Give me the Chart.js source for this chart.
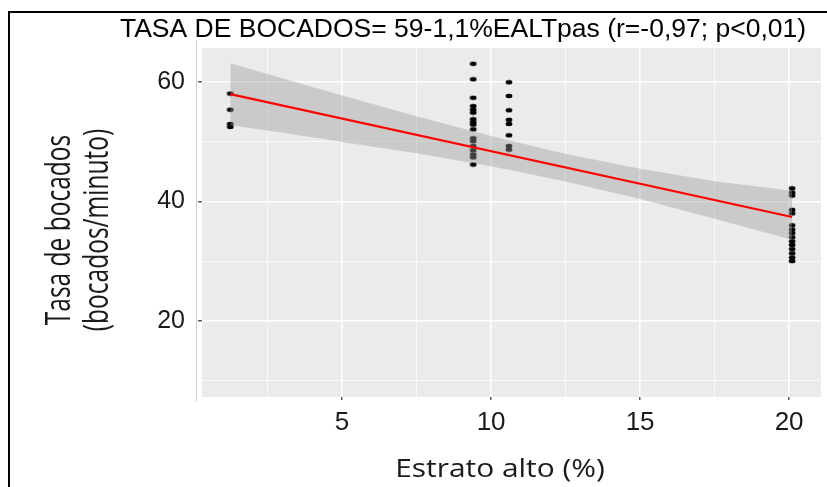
<!DOCTYPE html>
<html>
<head>
<meta charset="utf-8">
<script src="https://cdn.jsdelivr.net/npm/chart.js@4.4.1/dist/chart.umd.min.js"></script>
<style>
  html, body { margin: 0; padding: 0; background: #fff; }
  #wrap { position: relative; width: 827px; height: 487px; }
  #frame { position: absolute; left: 8px; top: 11px; right: 0; bottom: 0;
           border-top: 2px solid #000; border-left: 2px solid #000; pointer-events: none; }
</style>
</head>
<body>
<div id="wrap">
  <canvas id="chart-1" width="827" height="487"></canvas>
  <div id="frame"></div>
</div>
<script>
// estrato alto (%) of each group of observations
const groupX = [1.25, 9.4, 10.6, 20.1];
// tasa de bocados (bocados/minuto) per group
const groupA = [58.1, 55.4, 53.0, 52.5];
const groupB = [63.1, 60.5, 57.4, 56.0, 55.4, 54.9, 53.8, 53.3, 52.9, 52.1, 50.6, 50.1, 49.3, 48.6, 47.9, 47.4, 46.2];
const groupC = [60.0, 57.7, 55.3, 53.7, 53.0, 51.1, 49.3, 48.7];
const groupD = [42.2, 41.5, 41.0, 38.6, 38.0, 36.0, 35.3, 34.7, 34.0, 33.3, 32.7, 32.0, 31.3, 30.6, 30.0];

// fitted line and its confidence band
const fitX = [1.25, 20.1];
const fitY = [58.0, 37.4];
const bandX = [1.25, 2.9, 5, 7.5, 10, 12.4, 15, 17.5, 20.1];
const bandUpper = [63.2, 60.8, 57.8, 54.3, 51.0, 48.1, 45.5, 43.4, 41.8];
const bandLower = [52.8, 51.6, 50.0, 48.1, 45.9, 43.5, 40.4, 37.1, 33.6];

// ticks / grid
const xGrid = [2.5, 5, 7.5, 10, 12.5, 15, 17.5, 20];
const xLabels = [5, 10, 15, 20];
const yGrid = [10, 20, 30, 40, 50, 60];
const yLabels = [20, 40, 60];

const titleText = "TASA DE BOCADOS= 59-1,1%EALTpas (r=-0,97; p<0,01)";
const xTitle = "Estrato alto (%)";
const yTitle = ["Tasa de bocados", "(bocados/minuto)"];

const toPoints = (xs, ys) => ys.map((y, i) => ({ x: xs[i], y: y }));

const points = [];
[groupA, groupB, groupC, groupD].forEach((g, i) => {
  g.forEach(v => points.push({ x: groupX[i], y: v }));
});

// the dots in the picture are a bit wider than tall
const dot = document.createElement("canvas");
dot.width = 8;
dot.height = 6;
const dctx = dot.getContext("2d");
dctx.fillStyle = "#000";
dctx.beginPath();
dctx.ellipse(4, 3, 3.4, 2.2, 0, 0, Math.PI * 2);
dctx.fill();

const panelPlugin = {
  id: 'panel',
  beforeDraw(chart) {
    const { ctx, chartArea: a } = chart;
    ctx.save();
    ctx.fillStyle = '#EBEBEB';
    ctx.fillRect(a.left, a.top, a.right - a.left, a.bottom - a.top);
    ctx.strokeStyle = '#cccccc';
    ctx.lineWidth = 1;
    ctx.beginPath();
    ctx.moveTo(196.5, 40);
    ctx.lineTo(196.5, 401);
    ctx.stroke();
    ctx.restore();
  },
  afterDraw(chart) {
    const ctx = chart.ctx;
    ctx.save();
    ctx.font = '26.5px "Liberation Sans", Arial, sans-serif';
    ctx.fillStyle = '#000';
    ctx.textAlign = 'center';
    ctx.textBaseline = 'alphabetic';
    ctx.fillText(titleText, 463, 37);
    ctx.restore();

    // x title
    ctx.save();
    ctx.font = '26px "Open Sans", sans-serif';
    ctx.fillStyle = '#1a1a1a';
    ctx.textAlign = 'center';
    ctx.textBaseline = 'alphabetic';
    ctx.translate(500, 477);
    ctx.scale(1.15, 1);
    ctx.fillText(xTitle, 0, 0);
    ctx.restore();

    // y title, two lines
    [70, 108].forEach((bx, i) => {
      ctx.save();
      ctx.font = '24.5px "Open Sans", sans-serif';
      ctx.fillStyle = '#1a1a1a';
      ctx.textAlign = 'center';
      ctx.textBaseline = 'alphabetic';
      ctx.translate(bx, 230);
      ctx.rotate(-Math.PI / 2);
      ctx.scale(1, 1.4);
      ctx.fillText(yTitle[i], 0, 0);
      ctx.restore();
    });
  }
};

const isMajor = (ctx, list) => ctx.tick && list.includes(ctx.tick.value);

const renderChart = () => {
  const ctx1 = document.getElementById("chart-1").getContext("2d");
  const myChart = new Chart(ctx1, {
    type: "scatter",
    data: {
      datasets: [
        {
          label: "obs",
          data: points,
          pointStyle: dot,
          order: 4,
        },
        {
          label: "lower",
          type: "line",
          data: toPoints(bandX, bandLower),
          borderColor: "rgba(0,0,0,0)",
          borderWidth: 0,
          pointRadius: 0,
          fill: false,
          order: 3,
        },
        {
          label: "upper",
          type: "line",
          data: toPoints(bandX, bandUpper),
          borderColor: "rgba(0,0,0,0)",
          borderWidth: 0,
          pointRadius: 0,
          backgroundColor: "rgba(153,153,153,0.4)",
          fill: 1,
          order: 2,
        },
        {
          label: "fit",
          type: "line",
          data: toPoints(fitX, fitY),
          borderColor: "#FF0000",
          borderWidth: 2.2,
          pointRadius: 0,
          fill: false,
          order: 1,
        },
      ],
    },
    options: {
      responsive: false,
      animation: false,
      layout: { padding: { top: 48, right: 6, bottom: 0, left: 0 } },
      plugins: { legend: { display: false }, tooltip: { enabled: false } },
      scales: {
        x: {
          type: "linear",
          min: 0.3,
          max: 21.07,
          afterBuildTicks: (s) => { s.ticks = xGrid.map(v => ({ value: v })); },
          afterFit: (s) => { s.height = 90; },
          border: { display: false },
          grid: {
            color: "#FFFFFF",
            lineWidth: (c) => isMajor(c, xLabels) ? 1.6 : 0.7,
            tickColor: (c) => isMajor(c, xLabels) ? "#333333" : "rgba(0,0,0,0)",
            tickLength: 3,
            tickWidth: 1.2,
          },
          ticks: {
            autoSkip: false,
            maxRotation: 0,
            padding: 7,
            color: "#1a1a1a",
            font: { family: '"Liberation Sans", Arial, sans-serif', size: 26 },
            callback: (v) => xLabels.includes(v) ? String(v) : "",
          },
        },
        y: {
          type: "linear",
          min: 7.2,
          max: 65.75,
          afterBuildTicks: (s) => { s.ticks = yGrid.map(v => ({ value: v })); },
          afterFit: (s) => { s.width = 202; },
          border: { display: false },
          grid: {
            color: "#FFFFFF",
            lineWidth: (c) => isMajor(c, yLabels) ? 1.6 : 0.7,
            tickColor: (c) => isMajor(c, yLabels) ? "#333333" : "rgba(0,0,0,0)",
            tickLength: 4,
            tickWidth: 1.2,
          },
          ticks: {
            autoSkip: false,
            padding: 13,
            color: "#1a1a1a",
            font: { family: '"Liberation Sans", Arial, sans-serif', size: 25 },
            callback: (v) => yLabels.includes(v) ? String(v) : "",
          },
        },
      },
    },
    plugins: [panelPlugin],
  });
};

renderChart();
</script>
</body>
</html>
